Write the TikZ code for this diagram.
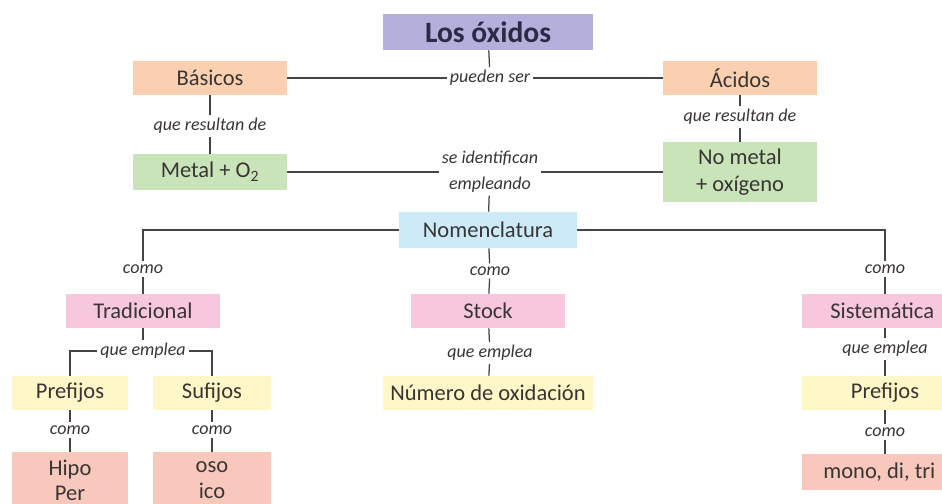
\documentclass[tikz,border=0pt]{standalone}
\usepackage{fontspec}
\setmainfont{Carlito}
\usetikzlibrary{positioning}

\definecolor{lila}{HTML}{B5AFDC}
\definecolor{durazno}{HTML}{FBD0B0}
\definecolor{verde}{HTML}{C8E4B8}
\definecolor{celeste}{HTML}{CDEAF8}
\definecolor{rosa}{HTML}{F7C8DD}
\definecolor{amarillo}{HTML}{FEF7C8}
\definecolor{salmon}{HTML}{F8C8BC}
\definecolor{texto}{HTML}{3A3535}
\definecolor{titulo}{HTML}{2C2A45}
\definecolor{gris}{HTML}{444444}

\begin{document}
\begin{tikzpicture}[x=0.025cm, y=-0.025cm,
   caja/.style={rectangle, inner sep=0pt, minimum width=3.85cm, minimum height=0.85cm,
                align=center, text=texto, font=\fontsize{16}{19}\selectfont},
   enlace/.style={inner sep=2pt, align=center, text=texto, font=\itshape\fontsize{12.8}{18.4}\selectfont},
   linea/.style={draw=gris, line width=0.9pt}]
   \path[use as bounding box] (0,0) rectangle (942,504);
   \clip (0,0) rectangle (942,504);

   \node[caja, fill=lila, minimum width=5.25cm, minimum height=0.9cm, text=titulo,
         font=\bfseries\fontsize{21}{24}\selectfont] (oxidos) at (488,32) {Los óxidos};
   \node[enlace] (pueden) at (490,78) {pueden ser};
   \node[caja, fill=durazno] (basicos) at (210,78) {Básicos};
   \node[caja, fill=durazno] (acidos) at (740,78) {Ácidos};

   \node[enlace] (resulta_b) at (210,126) {que resultan de};
   \node[enlace] (resulta_a) at (740,117) {que resultan de};
   \node[caja, fill=verde, minimum height=0.9cm] (metal) at (210,172) {Metal + O\textsubscript{2}};
   \node[caja, fill=verde, minimum height=1.5cm] (nometal) at (740,172) {No metal\\+ oxígeno};
   \node[enlace] (identif) at (490,172) {se identifican\\empleando};

   \node[caja, fill=celeste, minimum width=4.425cm, minimum height=0.9cm] (nomen) at (488,230) {Nomenclatura};

   \node[enlace] (como_t) at (143,269) {como};
   \node[enlace] (como_s) at (490,271) {como};
   \node[enlace] (como_m) at (885,269) {como};
   \node[caja, fill=rosa] (trad) at (143,311) {Tradicional};
   \node[caja, fill=rosa] (stock) at (488,311) {Stock};
   \node[caja, fill=rosa, minimum width=4.15cm] (sistem) at (885,311) {Sistemática\hspace{4pt}};

   \node[enlace] (emplea_t) at (143,351) {que emplea};
   \node[enlace] (emplea_s) at (490,353) {que emplea};
   \node[enlace] (emplea_m) at (885,349) {que emplea};
   \node[caja, fill=amarillo, minimum width=2.875cm] (pref_t) at (70,393) {Prefijos};
   \node[caja, fill=amarillo, minimum width=2.925cm] (suf_t) at (212,393) {Sufijos};
   \node[caja, fill=amarillo, minimum width=5.225cm] (numero) at (488,393) {Número de oxidación};
   \node[caja, fill=amarillo, minimum width=4.15cm] (pref_m) at (885,393) {Prefijos};

   \node[enlace] (como_p) at (70,430) {como};
   \node[enlace] (como_f) at (212,430) {como};
   \node[enlace] (como_r) at (885,432) {como};
   \node[caja, fill=salmon, minimum width=2.875cm, minimum height=1.4cm,
         font=\fontsize{16}{18}\selectfont] (hipo) at (70,480) {Hipo\\Per};
   \node[caja, fill=salmon, minimum width=2.925cm, minimum height=1.4cm,
         font=\fontsize{16}{18}\selectfont] (oso) at (212,480) {oso\\ico};
   \node[caja, fill=salmon, minimum width=4.15cm, minimum height=0.875cm] (mono) at (885,472) {mono, di, tri\hspace{8pt}};

   \path[linea]
    (oxidos) edge (pueden)
    (pueden) edge (basicos)
             edge (acidos)
    (basicos) edge (resulta_b)
    (resulta_b) edge (metal)
    (acidos) edge (resulta_a)
    (resulta_a) edge (nometal)
    (identif) edge (metal)
              edge (nometal)
              edge (nomen)
    (nomen) edge (como_s)
    (como_s) edge (stock)
    (como_t) edge (trad)
    (como_m) edge (sistem)
    (trad) edge (emplea_t)
    (stock) edge (emplea_s)
    (emplea_s) edge (numero)
    (sistem) edge (emplea_m)
    (emplea_m) edge (pref_m)
    (pref_t) edge (como_p)
    (como_p) edge (hipo)
    (suf_t) edge (como_f)
    (como_f) edge (oso)
    (pref_m) edge (como_r)
    (como_r) edge (mono);

   \draw[linea] (nomen) -| (como_t);
   \draw[linea] (nomen) -| (como_m);
   \draw[linea] (emplea_t) -| (pref_t);
   \draw[linea] (emplea_t) -| (suf_t);
\end{tikzpicture}
\end{document}
